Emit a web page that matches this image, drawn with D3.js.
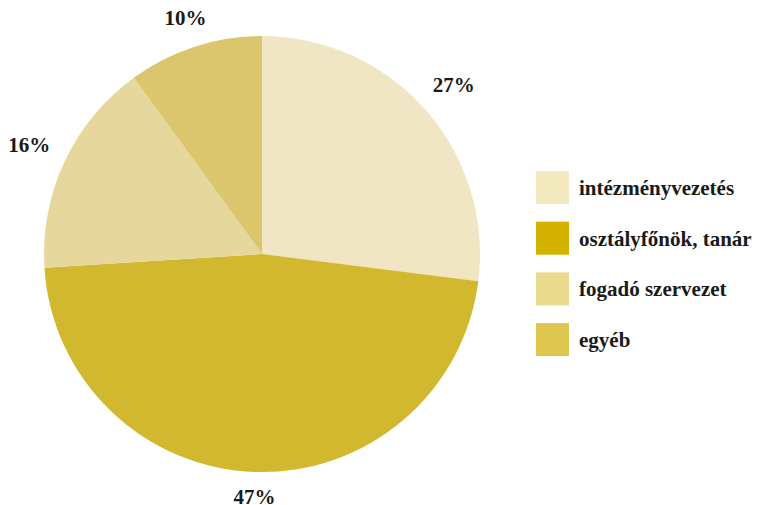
<!DOCTYPE html>
<html>
<head>
<meta charset="utf-8">
<script src="https://cdn.jsdelivr.net/npm/d3@7"></script>
<style>
  html, body { margin: 0; padding: 0; background: #fff; }
  svg { display: block; }
</style>
</head>
<body>
<svg id="chart" width="757" height="505"></svg>
<script>
// Share of each category (percent)
const categories = ["intézményvezetés", "osztályfőnök, tanár", "fogadó szervezet", "egyéb"];
const values = [27, 47, 16, 10];
const sliceColors = ["#f0e6c4", "#d1b82e", "#e6d89c", "#dbc66e"];
const legendColors = ["#f2e9be", "#d4b300", "#eada8e", "#dfc64f"];

const FONT = "'Liberation Serif', 'Tinos', 'Times New Roman', 'DejaVu Serif', serif";

const svg = d3.select("#chart");
const cx = 262, cy = 254, radius = 218;

const pie = d3.pie().sort(null).value(d => d.value);
const arc = d3.arc().innerRadius(0).outerRadius(radius);
const data = pie(categories.map((c, i) => ({ name: c, value: values[i], i })));

const g = svg.append("g").attr("transform", `translate(${cx},${cy})`);

g.selectAll("path.slice")
  .data(data)
  .join("path")
  .attr("class", "slice")
  .attr("d", arc)
  .attr("fill", d => sliceColors[d.data.i]);

// Percentage labels: centred on the slice's mid-angle ray, pushed out until
// the label box sits a fixed gap clear of the pie's rim.
const labelGap = 17, halfH = 7.5;
const labels = g.selectAll("text.pct")
  .data(data)
  .join("text")
  .attr("class", "pct")
  .attr("font-family", FONT)
  .attr("font-weight", "bold")
  .attr("fill", "#1a1a1a")
  .attr("text-anchor", "middle")
  .attr("dominant-baseline", "central")
  .attr("font-size", 21)
  .text(d => d.data.value + "%");

labels.each(function(d) {
  const hw = this.getComputedTextLength() / 2;
  const a = (d.startAngle + d.endAngle) / 2;
  const ux = Math.sin(a), uy = -Math.cos(a);
  const clearance = t => {
    const x = t * ux, y = t * uy;
    const px = Math.max(x - hw, Math.min(0, x + hw));
    const py = Math.max(y - halfH, Math.min(0, y + halfH));
    return Math.hypot(px, py);
  };
  let lo = radius, hi = radius + 150;
  for (let k = 0; k < 40; k++) {
    const mid = (lo + hi) / 2;
    if (clearance(mid) < radius + labelGap) lo = mid; else hi = mid;
  }
  d3.select(this).attr("x", lo * ux).attr("y", lo * uy);
});

// Legend
const legend = svg.append("g").attr("transform", "translate(536,171)");
const item = legend.selectAll("g.item")
  .data(categories)
  .join("g")
  .attr("class", "item")
  .attr("transform", (d, i) => `translate(0,${i * 50.7})`);

item.append("rect")
  .attr("width", 33)
  .attr("height", 33)
  .attr("fill", (d, i) => legendColors[i]);

item.append("text")
  .attr("x", 43)
  .attr("y", 17)
  .attr("font-family", FONT)
  .attr("font-weight", "bold")
  .attr("fill", "#1a1a1a")
  .attr("dominant-baseline", "central")
  .attr("font-size", 21)
  .text(d => d);
</script>
</body>
</html>
